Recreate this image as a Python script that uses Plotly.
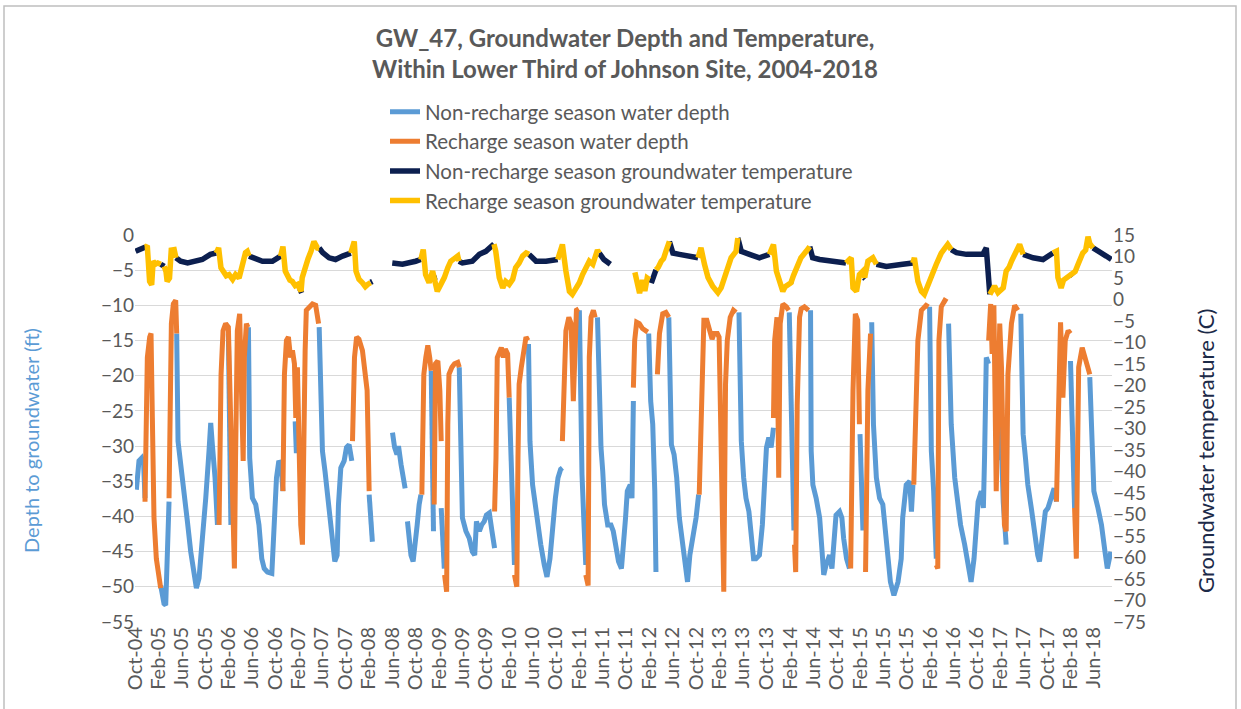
import numpy as np
import pandas as pd
import plotly.graph_objects as go

# ---------------- DATA (months since 2004-10-01, value) ----------------
START = "2004-10-01"

nonrecharge_depth = [
    [(0.23,-36.2),(0.68,-32.1),(1.14,-31.7),(1.48,-32.6),(1.71,-37.4)],
    [(4.39,-49.8),(4.96,-52.4),(5.25,-52.6),(5.53,-46.9),(5.82,-37.9)],
    [(7.13,-14.0),(7.36,-29.3),(7.82,-32.6),(8.39,-37.4),(8.96,-40.7),(9.53,-45.0),(10.1,-48.8),(10.5,-50.2),
     (10.95,-48.8),(11.52,-44.0),(12.1,-37.4),(12.66,-30.7),(12.95,-26.7),(13.23,-29.8),(13.69,-34.5),(14.1,-41.2)],
    [(15.97,-14.0),(16.2,-36.4),(16.4,-41.2)],
    [(19.4,-13.1),(19.62,-31.7),(20.08,-37.4),(20.65,-38.3),(21.2,-41.2),(21.68,-46.0),(22.1,-47.4),(22.65,-47.9),
     (23.4,-48.1),(23.6,-44.0),(23.84,-39.3),(24.2,-34.5),(24.6,-32.1),(24.98,-32.6),(25.3,-36.4)],
    [(27.4,-26.5),(27.6,-31.0),(27.8,-27.5)],
    [(31.5,-13.1),(31.77,-26.0),(32.06,-30.7),(32.5,-33.6),(33.1,-38.8),(33.66,-43.1),(34.17,-46.4),(34.57,-45.5),
     (34.8,-38.3),(35.2,-33.1),(35.77,-32.1),(36.17,-30.2),(36.62,-29.8),(37.08,-32.1)],
    [(40.05,-36.9),(40.3,-41.2),(40.6,-43.6)],
    [(44.04,-28.1),(44.4,-30.2),(44.8,-31.2),(45.07,-30.0),(45.5,-32.6),(45.86,-34.5),(46.2,-36.0)],
    [(46.6,-40.7),(46.9,-44.0),(47.2,-45.5),(47.57,-46.4),(47.9,-44.5),(48.26,-41.2),(48.6,-38.3),(48.9,-36.9)],
    [(50.66,-19.3),(50.9,-36.4),(51.05,-42.1)],
    [(52.37,-38.8),(52.7,-45.0),(52.9,-47.4)],
    [(55.46,-18.8),(55.75,-34.0),(56.0,-40.2),(56.6,-42.1),(57.17,-43.1),(57.7,-45.0),(58.1,-45.5),(58.4,-40.7),
     (58.9,-42.1),(59.3,-41.2),(59.74,-40.7),(60.1,-39.8),(60.6,-39.5),(61.05,-42.1),(61.5,-44.5)],
    [(64.0,-23.1),(64.3,-31.7),(64.6,-41.2),(64.9,-46.9)],
    [(67.3,-15.5),(67.55,-29.3),(68.0,-35.5),(68.5,-38.8),(68.9,-41.2),(69.4,-44.0),(70.0,-46.9),(70.46,-48.6),
     (70.97,-46.0),(71.4,-41.2),(71.9,-37.4),(72.35,-34.5),(72.8,-33.3),(73.1,-33.1)],
    [(76.0,-10.7),(76.2,-26.9),(76.45,-34.0),(76.8,-41.2),(77.1,-46.9)],
    [(79.1,-11.7),(79.4,-22.1),(79.7,-30.2),(80.0,-33.6),(80.3,-38.3),(80.85,-41.2),(81.4,-41.2),(81.8,-42.1),
     (82.27,-44.5),(82.7,-46.4),(83.2,-47.4),(83.5,-45.0),(83.9,-40.2),(84.2,-36.4),(84.7,-35.5),(85.0,-37.4),(85.24,-23.6)],
    [(87.86,-14.0),(88.2,-23.6),(88.55,-26.9),(88.9,-36.4),(89.1,-47.9)],
    [(91.3,-11.7),(91.5,-19.8),(91.74,-29.8),(92.2,-31.2),(92.65,-34.5),(93.1,-40.2),(93.6,-44.0),(94.0,-46.9),
     (94.5,-49.3),(94.9,-45.5),(95.4,-43.1),(95.96,-40.2),(96.4,-36.9)],
    [(103.3,-11.0),(103.5,-22.1),(103.7,-29.3),(104.1,-34.5),(104.5,-37.4),(105.0,-39.3),(105.4,-42.6),(105.8,-46.0),
     (106.2,-46.0),(106.8,-45.5),(107.3,-41.2),(107.7,-34.5),(108.0,-30.2),(108.4,-28.8),(108.8,-30.2),(109.2,-27.4)],
    [(111.9,-11.0),(112.2,-22.0),(112.5,-36.0),(112.7,-42.0)],
    [(115.54,-10.7),(115.65,-30.7),(115.94,-35.5),(116.5,-37.4),(117.1,-40.2),(117.4,-44.0),(117.8,-48.3),(118.2,-46.9),
     (118.8,-45.5),(119.2,-47.4),(119.65,-41.2),(119.9,-39.8),(120.5,-39.3),(120.9,-40.2),(121.2,-43.1),(121.7,-46.0),(122.2,-47.4)],
    [(124.0,-28.3),(124.2,-36.4),(124.5,-42.0)],
    [(126.0,-12.4),(126.3,-26.9),(126.8,-34.5),(127.35,-37.4),(127.9,-38.3),(128.2,-41.2),(128.8,-46.0),(129.2,-49.3),
     (129.8,-51.2),(130.5,-49.3),(131.05,-46.0),(131.3,-40.2),(131.9,-35.5),(132.5,-35.0),(132.8,-39.3),(133.05,-35.5)],
    [(135.9,-10.2),(136.2,-30.7),(136.6,-36.4),(137.05,-46.0)],
    [(139.15,-12.6),(139.3,-20.2),(139.6,-26.9),(140.2,-34.5),(140.6,-37.4),(141.2,-41.2),(141.9,-44.0),(142.6,-47.4),
     (143.0,-49.3),(143.5,-46.0),(143.8,-41.2),(144.2,-37.9),(144.75,-36.4),(145.1,-38.8),(145.3,-31.7),(145.6,-17.4),(146.0,-18.3)],
    [(147.4,-28.0),(147.7,-32.0),(148.0,-25.0),(148.5,-38.0),(149.0,-44.0)],
    [(151.5,-11.2),(151.9,-28.3),(152.3,-31.7),(152.7,-35.5),(153.3,-38.8),(153.8,-42.1),(154.4,-45.5),(154.7,-46.4),
     (155.3,-42.1),(155.7,-39.3),(156.15,-38.8),(156.7,-37.4),(157.2,-36.0),(157.6,-37.9)],
    [(160.0,-17.9),(160.3,-26.9),(160.5,-36.4),(160.7,-38.8)],
    [(163.3,-20.2),(163.6,-29.3),(164.0,-36.4),(164.7,-38.8),(165.3,-41.2),(165.9,-45.0),(166.3,-47.4),(166.9,-45.0)],
]

recharge_depth = [
    [(1.71,-37.9),(2.11,-17.4),(2.51,-14.5),(2.74,-14.0),(2.97,-26.0),(3.25,-40.2),(3.65,-46.0),(4.1,-49.3),(4.39,-50.2)],
    [(5.82,-37.4),(6.05,-22.1),(6.22,-12.6),(6.56,-9.8),(6.96,-9.3),(7.13,-14.0)],
    [(14.38,-41.2),(14.72,-19.8),(15.06,-13.6),(15.5,-12.6),(15.97,-13.1),(16.37,-26.9),(16.77,-41.2),(17.0,-47.4),
     (17.2,-31.7),(17.5,-13.6),(17.9,-11.2),(18.25,-22.1),(18.5,-32.1),(18.7,-17.4),(19.05,-12.6),(19.3,-13.1)],
    [(25.3,-36.4),(25.56,-19.8),(25.9,-15.0),(26.24,-14.5),(26.6,-17.4),(26.93,-16.4),(27.27,-18.3),(27.5,-26.0),
     (27.78,-18.8),(28.07,-31.7),(28.35,-41.2),(28.64,-44.0),(28.86,-26.9),(29.1,-16.4),(29.3,-10.7),(29.8,-10.2),
     (30.35,-9.8),(30.9,-10.0),(31.4,-12.6)],
    [(37.2,-29.3),(37.54,-17.4),(37.9,-14.5),(38.3,-14.8),(38.9,-16.4),(39.36,-19.3),(39.7,-22.1),(40.05,-36.4)],
    [(49.06,-36.9),(49.4,-19.8),(49.74,-17.4),(50.08,-15.7),(50.4,-17.4),(50.66,-19.3)],
    [(51.17,-38.3),(51.4,-18.3),(51.8,-17.9),(52.14,-22.1),(52.37,-29.3)],
    [(52.95,-48.3),(53.3,-50.7),(53.5,-26.9),(53.7,-19.8),(54.2,-18.8),(54.65,-18.3),(55.2,-18.1),(55.46,-18.8)],
    [(61.5,-39.3),(61.74,-31.7),(61.96,-17.4),(62.3,-16.4),(62.65,-16.0),(63.0,-17.4),(63.33,-16.2),(63.73,-16.9),(64.0,-23.1)],
    [(64.9,-48.3),(65.3,-50.0),(65.5,-31.7),(65.7,-21.2),(66.07,-18.8),(66.4,-16.4),(66.87,-14.5),(67.2,-15.0)],
    [(73.1,-29.3),(73.37,-19.8),(73.7,-13.6),(74.2,-11.7),(74.6,-12.6),(74.97,-23.6),(75.2,-15.5),(75.5,-10.7),(75.9,-10.5)],
    [(77.1,-48.3),(77.5,-49.8),(77.7,-17.4),(78.0,-11.7),(78.4,-10.7),(78.7,-11.7)],
    [(85.24,-21.7),(85.46,-15.0),(85.8,-12.4),(86.26,-12.6),(86.8,-13.3),(87.7,-13.8)],
    [(89.35,-19.8),(89.7,-14.0),(90.26,-11.2),(90.8,-11.0),(91.3,-11.7)],
    [(96.5,-36.9),(96.8,-26.9),(97.0,-17.4),(97.3,-12.1),(97.8,-12.1),(98.2,-13.6),(98.7,-14.8),(99.05,-14.0),
     (99.6,-14.0),(99.9,-14.5),(100.7,-50.7),(101.0,-21.2),(101.3,-15.0),(101.8,-11.7),(102.35,-10.7),(102.8,-11.0)],
    [(109.2,-26.0),(109.4,-15.0),(109.8,-11.7),(110.1,-34.5),(110.35,-12.6),(110.8,-9.8),(111.4,-10.2),(111.8,-10.7)],
    [(112.8,-44.0),(113.0,-47.9),(113.26,-24.2),(113.66,-11.7),(113.94,-10.5),(114.5,-10.2),(115.2,-10.7)],
    [(122.4,-47.4),(122.8,-22.1),(123.2,-11.2),(123.6,-12.1),(123.9,-26.9)],
    [(124.95,-47.9),(125.35,-22.1),(125.8,-14.0)],
    [(133.2,-35.5),(133.6,-22.1),(133.9,-15.0),(134.5,-10.7),(135.3,-10.0),(135.7,-10.2)],
    [(137.05,-46.9),(137.3,-47.4),(137.5,-15.0),(137.9,-10.2),(138.5,-9.3),(138.9,-9.5)],
    [(146.0,-15.0),(146.35,-9.8),(146.6,-16.9),(146.9,-10.0),(147.3,-36.4),(147.9,-12.6),(148.2,-18.8),(148.7,-41.2),
     (149.0,-42.1),(149.3,-19.8),(149.9,-12.6),(150.45,-10.0),(151.0,-10.7)],
    [(157.6,-37.9),(158.0,-22.1),(158.3,-12.4),(158.7,-23.1),(159.1,-15.0),(159.6,-13.6),(160.0,-14.0)],
    [(160.7,-38.8),(161.0,-46.0),(161.2,-31.7),(161.4,-18.8),(162.0,-16.0),(162.7,-17.9),(163.3,-19.8)],
]

nonrecharge_temp = [
    [(0.1,11.2),(1.0,11.9),(1.8,12.2)],
    [(4.4,8.2),(5.0,7.7)],
    [(7.0,9.7),(7.8,8.9),(9.0,8.5),(10.4,8.9),(11.5,9.3),(12.9,10.5),(13.9,10.8)],
    [(19.5,10.1),(20.7,9.3),(21.8,8.9),(23.5,8.9),(24.9,10.1)],
    [(28.2,2.5),(28.5,1.5)],
    [(31.5,12.0),(32.1,10.9),(33.2,9.7),(34.3,9.3),(35.5,10.1),(36.9,10.8)],
    [(40.3,4.0),(40.6,4.2)],
    [(44.0,8.5),(45.75,8.2),(48.0,8.9),(48.9,9.3)],
    [(51.1,5.5),(51.3,4.5)],
    [(55.4,8.9),(56.0,8.5),(57.7,8.9),(58.9,10.5),(60.0,11.2),(61.2,12.8),(61.4,12.9)],
    [(64.4,4.9),(64.7,4.5)],
    [(67.4,10.5),(68.6,8.9),(70.3,8.9),(72.3,9.3)],
    [(75.9,4.0),(76.1,3.8)],
    [(79.4,10.8),(80.2,9.3),(81.3,8.2)],
    [(88.3,3.8),(88.7,5.5),(89.1,6.9)],
    [(91.4,13.5),(92.0,10.8),(93.1,10.5),(94.3,10.1),(96.3,9.7)],
    [(103.1,14.3),(103.7,11.2),(105.1,10.5),(106.8,9.7),(108.5,10.5)],
    [(112.1,3.9),(112.3,3.5)],
    [(115.4,12.3),(115.9,9.7),(117.1,9.3),(119.4,8.9),(121.6,8.5)],
    [(124.7,5.1),(124.9,4.8)],
    [(126.8,8.2),(128.5,7.7),(131.3,8.2),(133.05,8.5)],
    [(136.1,5.1),(136.3,4.8)],
    [(139.6,11.6),(140.5,10.9),(142.2,10.5),(145.0,10.5),(145.6,12.0),(145.9,3.5),(146.2,1.2)],
    [(148.4,2.7),(148.6,2.4)],
    [(151.9,10.5),(153.6,9.7),(155.3,9.3),(157.0,10.8)],
    [(160.3,5.8),(160.5,5.5)],
    [(163.85,12.0),(165.0,11.2),(166.1,10.1),(167.0,9.3)],
]

recharge_temp = [
    [(1.8,12.2),(2.1,12.5),(2.5,4.2),(2.85,3.4),(3.1,8.9),(3.5,8.2),(3.9,8.5),(4.4,8.2)],
    [(5.0,7.7),(5.3,6.5),(5.5,4.2),(5.9,5.0),(6.2,11.5),(6.7,11.6),(7.0,9.7)],
    [(13.9,10.8),(14.3,12.0),(14.7,7.4),(15.2,6.2),(15.6,5.5),(16.1,5.8),(16.7,4.7),(17.2,5.8),(17.8,5.0),
     (18.4,8.2),(18.9,10.9),(19.2,11.2),(19.5,10.1)],
    [(24.9,10.1),(25.3,12.3),(25.7,6.6),(26.1,5.1),(26.5,4.5),(26.9,4.2),(27.4,3.2),(27.8,3.5),(28.4,1.9),
     (28.6,5.1),(29.2,8.2),(29.6,9.5),(30.1,11.2),(30.6,13.5),(31.2,12.0),(31.5,12.0)],
    [(36.9,10.8),(37.5,13.5),(37.8,6.6),(38.3,4.7),(38.9,3.9),(39.4,3.0),(39.8,3.5),(40.3,3.9)],
    [(48.9,9.3),(49.3,11.6),(49.7,5.8),(50.3,3.9),(50.9,6.6),(51.2,5.0),(51.7,1.9),(52.3,3.5),(52.9,5.1),
     (53.5,7.4),(54.0,8.9),(54.6,9.5),(55.2,10.1),(55.4,8.9)],
    [(61.4,12.9),(61.7,11.2),(62.3,5.1),(62.9,2.7),(63.4,4.2),(64.0,3.5),(64.6,4.7),(65.1,7.4),(65.7,8.5),
     (66.3,10.1),(66.9,10.8),(67.4,10.5)],
    [(72.3,9.3),(73.1,12.8),(73.7,6.6),(74.3,1.9),(74.8,1.2),(75.4,2.5),(76.0,3.9),(76.55,5.8),(77.1,7.5),
     (77.7,8.9),(78.3,8.2),(79.1,11.5),(79.4,10.8)],
    [(85.5,6.3),(85.9,3.0),(86.3,1.5),(86.8,4.5),(87.2,2.0),(87.6,5.0),(88.0,4.6)],
    [(89.1,6.9),(89.5,7.5),(90.0,8.9),(90.4,9.5),(90.8,11.2),(91.4,13.5)],
    [(96.3,9.7),(96.8,12.0),(97.4,8.2),(98.0,5.1),(98.8,3.1),(99.3,2.5),(99.7,1.6),(100.25,2.7),(100.7,4.5),
     (101.1,6.6),(101.5,8.0),(101.95,9.7),(102.8,11.2),(103.1,14.3)],
    [(108.5,10.5),(109.2,12.8),(109.7,6.6),(110.2,4.2),(110.8,1.9),(111.2,3.0),(111.65,3.5),(112.2,3.9),
     (112.6,5.5),(113.1,7.3),(113.9,9.7),(114.8,11.2),(115.4,12.3)],
    [(121.6,8.5),(122.5,9.7),(122.8,2.7),(123.4,1.9),(123.9,5.8),(124.5,6.6),(124.8,5.1),(125.35,8.9),
     (126.2,9.7),(126.8,8.2)],
    [(133.05,8.5),(133.3,9.7),(133.9,4.2),(134.5,1.9),(135.0,1.2),(135.6,3.5),(136.2,5.1),(136.6,6.5),
     (137.05,8.2),(137.9,10.8),(138.5,11.8),(139.0,12.8),(139.6,11.6)],
    [(146.2,1.2),(146.5,1.9),(147.0,3.1),(147.6,1.6),(148.2,2.3),(148.5,2.7),(149.0,6.6),(149.5,7.5),
     (149.9,8.9),(150.75,11.6),(151.3,12.8),(151.9,10.5)],
    [(157.0,10.8),(157.6,11.2),(157.85,5.1),(158.4,2.7),(158.8,4.5),(159.3,5.1),(160.1,5.8),(160.8,6.5),
     (161.3,8.2),(162.1,10.8),(162.6,11.5),(163.0,14.6),(163.3,13.0),(163.85,12.0)],
]

tick_labels = ["Oct-04","Feb-05","Jun-05","Oct-05","Feb-06","Jun-06","Oct-06","Feb-07","Jun-07","Oct-07",
               "Feb-08","Jun-08","Oct-08","Feb-09","Jun-09","Oct-09","Feb-10","Jun-10","Oct-10","Feb-11",
               "Jun-11","Oct-11","Feb-12","Jun-12","Oct-12","Feb-13","Jun-13","Oct-13","Feb-14","Jun-14",
               "Oct-14","Feb-15","Jun-15","Oct-15","Feb-16","Jun-16","Oct-16","Feb-17","Jun-17","Oct-17",
               "Feb-18","Jun-18"]

series_names = ["Non-recharge season water depth", "Recharge season water depth",
                "Non-recharge season groundwater temperature", "Recharge season groundwater temperature"]
series_colors = ["#5B9BD5", "#ED7D31", "#0C1F4F", "#FFC000"]

# ---------------- helpers ----------------
t0 = pd.Timestamp(START)

def to_xy(segments):
    xs, ys = [], []
    for seg in segments:
        for m, v in seg:
            xs.append(t0 + pd.Timedelta(days=m * 30.4375))
            ys.append(v)
        xs.append(None)
        ys.append(None)
    return xs, ys

fig = go.Figure()
data_sets = [(nonrecharge_depth, "y"), (recharge_depth, "y"), (nonrecharge_temp, "y2"), (recharge_temp, "y2")]
for i, (segs, ax) in enumerate(data_sets):
    x, y = to_xy(segs)
    fig.add_trace(go.Scatter(x=x, y=y, mode="lines", name=series_names[i], yaxis=ax,
                             line=dict(color=series_colors[i], width=5 if ax == "y" else 5.5),
                             connectgaps=False, legendgroup=f"g{i}"))

tickvals = pd.date_range(START, periods=len(tick_labels), freq="4MS")

FONT = "Lato"
GRAY = "#595959"
fig.update_layout(
    width=1241, height=709,
    margin=dict(l=135, r=129, t=235, b=87),
    paper_bgcolor="white", plot_bgcolor="white",
    font=dict(family=FONT, color=GRAY, size=18),
    title=dict(text="<b>GW_47, Groundwater Depth and Temperature,</b><br><b>Within Lower Third of Johnson Site, 2004-2018</b>",
               x=625/1241, xanchor="center", xref="container", y=1 - 47/709, yanchor="middle", yref="container",
               font=dict(family=FONT, size=24, color=GRAY)),
    legend=dict(x=(385-135)/977, y=1.37, xanchor="left", yanchor="top", orientation="v",
                font=dict(family=FONT, size=20.5, color=GRAY), tracegroupgap=0, bgcolor="rgba(0,0,0,0)"),
    showlegend=True,
    xaxis=dict(type="date", range=[t0, t0 + pd.Timedelta(days=167.1 * 30.4375)],
               tickmode="array", tickvals=tickvals, ticktext=tick_labels, tickangle=-90,
               showgrid=False, showline=False, zeroline=False, ticks="", automargin=False,
               tickfont=dict(family=FONT, size=20, color=GRAY)),
    yaxis=dict(range=[-55, 0], dtick=5, showgrid=True, gridcolor="#D9D9D9", gridwidth=1,
               zeroline=False, showline=False, ticks="", automargin=False,
               tickfont=dict(family=FONT, size=19, color=GRAY)),
    yaxis2=dict(range=[-75, 15], dtick=5, overlaying="y", side="right", showgrid=False,
                zeroline=False, showline=False, ticks="", automargin=False,
                tickfont=dict(family=FONT, size=19, color=GRAY)),
)

# axis titles (positioned like the original)
fig.add_annotation(text="Depth to groundwater (ft)", xref="paper", yref="paper",
                   x=(31-135)/977, y=(622-441)/387, textangle=-90, showarrow=False,
                   xanchor="center", yanchor="middle",
                   font=dict(family=FONT, size=20, color="#5B9BD5"))
fig.add_annotation(text="Groundwater temperature (C)", xref="paper", yref="paper",
                   x=(1205-135)/977, y=(622-451)/387, textangle=-90, showarrow=False,
                   xanchor="center", yanchor="middle",
                   font=dict(family=FONT, size=22, color="#1C2A48"))

# chart-area border
fig.add_shape(type="rect", xref="paper", yref="paper",
              x0=-131/977, x1=1101/977, y0=-90/387, y1=616/387,
              line=dict(color="#BFBFBF", width=1.5), fillcolor="rgba(0,0,0,0)", layer="below")

fig.write_html("out.html")
